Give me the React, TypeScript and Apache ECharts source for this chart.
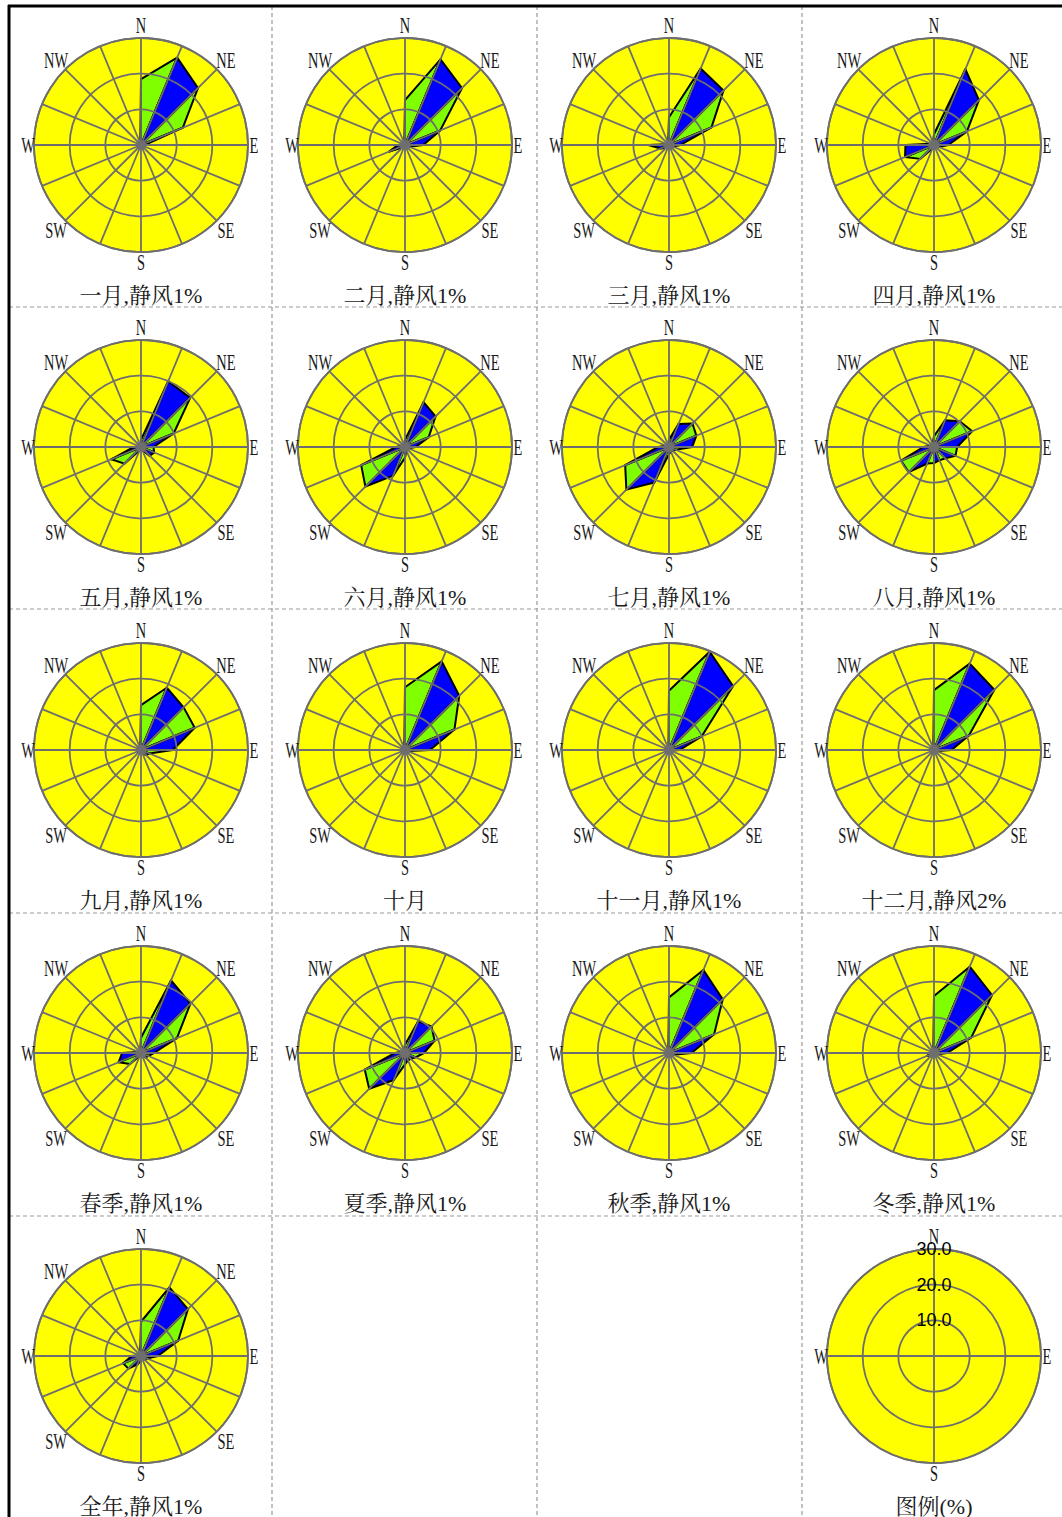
import React, { useEffect, useRef } from 'react';
import * as echarts from 'echarts';

// 16 wind directions, clockwise from north
const DIRECTIONS = ['N', 'NNE', 'NE', 'ENE', 'E', 'ESE', 'SE', 'SSE', 'S', 'SSW', 'SW', 'WSW', 'W', 'WNW', 'NW', 'NNW'];

// wind direction frequency (%) per direction
const JAN = [18.5, 26.5, 22.6, 12.7, 1.0, 0.6, 0.5, 0.4, 0.5, 0.5, 0.8, 0.8, 0.6, 0.3, 0.3, 0.5];
const FEB = [12.6, 26.0, 22.6, 10.7, 5.1, 1.2, 0.6, 0.5, 0.6, 0.6, 1.0, 4.8, 2.0, 0.5, 0.3, 0.5];
const MAR = [7.8, 23.2, 21.6, 12.9, 3.2, 1.2, 0.8, 0.6, 0.6, 0.8, 1.2, 2.5, 5.8, 0.6, 0.3, 0.6];
const APR = [3.0, 23.0, 17.8, 10.0, 4.0, 1.5, 1.0, 0.8, 0.8, 1.0, 5.5, 8.8, 8.0, 1.0, 0.5, 0.8];
const MAY = [2.0, 19.9, 19.5, 9.9, 3.5, 4.0, 3.5, 1.0, 0.8, 1.0, 6.6, 9.0, 2.0, 0.6, 0.4, 0.5];
const JUN = [2.0, 13.6, 12.1, 7.2, 3.0, 1.0, 1.0, 1.0, 3.0, 8.7, 15.7, 13.3, 2.5, 1.0, 0.5, 0.8];
const JUL = [2.0, 7.0, 9.3, 8.3, 6.5, 2.0, 1.5, 1.5, 2.0, 10.8, 16.9, 13.3, 3.0, 1.0, 0.5, 0.8];
const AUG = [3.0, 8.1, 10.2, 11.6, 6.5, 6.5, 4.5, 4.0, 4.5, 5.0, 10.0, 10.0, 3.0, 1.0, 0.8, 1.0];
const SEP = [12.6, 18.9, 16.9, 16.3, 8.9, 2.5, 2.0, 1.0, 0.8, 0.6, 0.5, 0.5, 1.0, 0.4, 0.3, 0.5];
const OCT = [17.6, 26.9, 21.5, 15.0, 7.0, 0.8, 0.5, 0.4, 0.4, 0.4, 0.5, 0.5, 0.4, 0.3, 0.3, 0.5];
const NOV = [16.6, 29.8, 25.4, 9.9, 3.0, 0.6, 0.4, 0.3, 0.3, 0.3, 0.4, 0.4, 0.3, 0.2, 0.2, 0.4];
const DEC = [16.8, 26.2, 23.9, 10.6, 4.9, 0.8, 0.5, 0.4, 0.4, 0.4, 0.5, 0.5, 0.4, 0.3, 0.3, 0.5];
const SPRING = [4.3, 22.0, 19.6, 10.9, 3.6, 2.2, 1.8, 0.8, 0.7, 0.9, 4.4, 6.8, 5.3, 0.7, 0.4, 0.6];
const SUMMER = [2.3, 9.6, 10.5, 9.0, 5.3, 3.2, 2.3, 2.2, 3.2, 8.2, 14.2, 12.2, 2.8, 1.0, 0.6, 0.9];
const AUTUMN = [15.6, 25.2, 21.3, 13.7, 6.3, 1.3, 1.0, 0.6, 0.5, 0.4, 0.5, 0.5, 0.6, 0.3, 0.3, 0.5];
const WINTER = [16.0, 26.2, 23.0, 11.3, 3.7, 0.9, 0.5, 0.4, 0.5, 0.5, 0.8, 2.0, 1.0, 0.4, 0.3, 0.5];
const ANNUAL = [9.6, 20.8, 18.6, 11.3, 4.7, 1.8, 1.4, 1.0, 1.3, 2.5, 5.0, 5.4, 2.6, 0.6, 0.4, 0.6];

const PANELS = [JAN, FEB, MAR, APR, MAY, JUN, JUL, AUG, SEP, OCT, NOV, DEC, SPRING, SUMMER, AUTUMN, WINTER, ANNUAL];

const TITLES = [
  '一月,静风1%', '二月,静风1%', '三月,静风1%', '四月,静风1%',
  '五月,静风1%', '六月,静风1%', '七月,静风1%', '八月,静风1%',
  '九月,静风1%', '十月', '十一月,静风1%', '十二月,静风2%',
  '春季,静风1%', '夏季,静风1%', '秋季,静风1%', '冬季,静风1%',
  '全年,静风1%',
];
const LEGEND_TITLE = '图例(%)';

// compass labels (degrees clockwise from north)
const COMPASS_ANGLES = [0, 45, 90, 135, 180, 225, 270, 315];
const COMPASS_NAMES = ['N', 'NE', 'E', 'SE', 'S', 'SW', 'W', 'NW'];
const LEGEND_ANGLES = [0, 90, 180, 270];
const LEGEND_NAMES = ['N', 'E', 'S', 'W'];
const RADIUS_MAX = 30;
const RADIUS_STEP = 10;

// layout
const W = 1062;
const H = 1517;
const COL_X = [141, 405, 669, 934];
const ROW_Y = [145, 447, 750, 1053, 1356];
const R = 107;
const V_LINES = [272, 537, 802];
const H_LINES = [307, 609, 913, 1216];

const YELLOW = '#FFFF00';
const GREEN = '#80FF00';
const BLUE = '#0000FF';
const GRID = '#6E6E6E';
const LABEL_FONT = '17px "Liberation Serif", serif';
const TITLE_FONT = '22px "Liberation Serif", "Noto Serif CJK SC", "Noto Sans CJK SC", serif';

function labelRadius(deg: number) {
  if (deg === 0) return 120;
  if (deg === 180) return 117;
  if (deg === 90 || deg === 270) return 113;
  return 120;
}

function buildOption() {
  const polar: any[] = [];
  const angleAxis: any[] = [];
  const radiusAxis: any[] = [];
  const series: any[] = [];
  const graphic: any[] = [];

  const addPolar = (idx: number, cx: number, cy: number, legend: boolean) => {
    polar.push({ center: [cx, cy], radius: R });
    angleAxis.push({
      polarIndex: idx,
      type: 'value',
      min: 0,
      max: 360,
      interval: legend ? 90 : 22.5,
      startAngle: 90,
      clockwise: true,
      z: 5,
      axisLine: { show: true, lineStyle: { color: GRID, width: 1.8 } },
      axisTick: { show: false },
      splitLine: { show: true, lineStyle: { color: GRID, width: 1.8 } },
      axisLabel: { show: false },
    });
    radiusAxis.push({
      polarIndex: idx,
      type: 'value',
      min: 0,
      max: RADIUS_MAX,
      interval: RADIUS_STEP,
      z: 6,
      axisLine: { show: false },
      axisTick: { show: false },
      splitLine: { show: true, lineStyle: { color: GRID, width: 1.8 } },
      axisLabel: legend
        ? {
            show: true,
            showMinLabel: false,
            margin: 0,
            align: 'center',
            verticalAlign: 'middle',
            color: '#000',
            fontSize: 18,
            fontFamily: '"Liberation Sans", Arial, sans-serif',
            formatter: (v: number) => (v === 0 ? '' : v.toFixed(1)),
          }
        : { show: false },
    });
    // yellow disk background
    series.push({
      type: 'custom',
      coordinateSystem: 'polar',
      polarIndex: idx,
      z: 1,
      silent: true,
      data: [[0, 0]],
      renderItem: (_p: any, api: any) => {
        const c = api.coord([0, 0]);
        const e = api.coord([RADIUS_MAX, 90]);
        const r = Math.hypot(e[0] - c[0], e[1] - c[1]);
        return { type: 'circle', shape: { cx: c[0], cy: c[1], r }, style: { fill: YELLOW } };
      },
    });
    // compass labels
    const angles = legend ? LEGEND_ANGLES : COMPASS_ANGLES;
    const names = legend ? LEGEND_NAMES : COMPASS_NAMES;
    angles.forEach((deg, j) => {
      const rl = labelRadius(deg);
      const t = (deg * Math.PI) / 180;
      graphic.push({
        type: 'text',
        x: cx + rl * Math.sin(t),
        y: cy - rl * Math.cos(t),
        scaleX: 0.85,
        scaleY: 1.3,
        z: 10,
        style: { text: names[j], fill: '#1a1a1a', font: LABEL_FONT, align: 'center', verticalAlign: 'middle' },
      });
    });
  };

  PANELS.forEach((vals, k) => {
    const row = Math.floor(k / 4);
    const col = k % 4;
    const cx = COL_X[col];
    const cy = ROW_Y[row];
    addPolar(k, cx, cy, false);
    const step = 360 / DIRECTIONS.length;
    series.push({
      type: 'custom',
      coordinateSystem: 'polar',
      polarIndex: k,
      z: 2,
      silent: true,
      data: DIRECTIONS.map((d, i) => ({ name: d, value: [i, vals[i], vals[(i + 1) % vals.length]] })),
      renderItem: (_p: any, api: any) => {
        const i = api.value(0);
        const a = api.value(1);
        const b = api.value(2);
        const c = api.coord([0, 0]);
        const p1 = api.coord([a, i * step]);
        const p2 = api.coord([b, (i + 1) * step]);
        return {
          type: 'polygon',
          shape: { points: [c, p1, p2] },
          style: { fill: i % 2 === 0 ? GREEN : BLUE, stroke: '#000', lineWidth: 2, lineJoin: 'round' },
        };
      },
    });
    graphic.push({
      type: 'text',
      x: cx,
      y: cy + 150,
      style: { text: TITLES[k], fill: '#1a1a1a', font: TITLE_FONT, align: 'center', verticalAlign: 'middle' },
    });
  });

  // legend panel
  const li = PANELS.length;
  addPolar(li, COL_X[3], ROW_Y[4], true);
  graphic.push({
    type: 'text',
    x: COL_X[3],
    y: ROW_Y[4] + 150,
    style: { text: LEGEND_TITLE, fill: '#1a1a1a', font: TITLE_FONT, align: 'center', verticalAlign: 'middle' },
  });

  // frame lines
  V_LINES.forEach((x) => {
    graphic.push({ type: 'line', shape: { x1: x, y1: 6, x2: x, y2: H }, style: { stroke: '#999', lineWidth: 1.2, lineDash: [4, 3] } });
  });
  H_LINES.forEach((y) => {
    graphic.push({ type: 'line', shape: { x1: 9, y1: y, x2: W, y2: y }, style: { stroke: '#999', lineWidth: 1.2, lineDash: [4, 3] } });
  });
  graphic.push({ type: 'line', shape: { x1: 8, y1: 6, x2: W, y2: 6 }, style: { stroke: '#000', lineWidth: 3 } });
  graphic.push({ type: 'line', shape: { x1: 9, y1: 5, x2: 9, y2: H }, style: { stroke: '#000', lineWidth: 3 } });

  return { animation: false, backgroundColor: '#fff', polar, angleAxis, radiusAxis, series, graphic };
}

export default function App() {
  const ref = useRef<HTMLDivElement>(null);
  useEffect(() => {
    if (!ref.current) return;
    const chart = echarts.init(ref.current, null, { renderer: 'svg' });
    chart.setOption(buildOption() as any);
    return () => chart.dispose();
  }, []);
  return <div ref={ref} style={{ position: 'absolute', left: 0, top: 0, width: W, height: H }} />;
}
